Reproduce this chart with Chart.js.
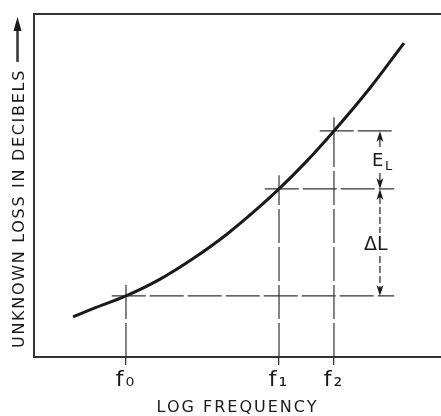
<!DOCTYPE html>
<html>
<head>
<meta charset="utf-8">
<script src="https://cdn.jsdelivr.net/npm/chart.js@4.4.1/dist/chart.umd.min.js"></script>
<style>
  html, body { margin: 0; padding: 0; background: #fff; }
  #wrap { width: 441px; height: 416px; }
</style>
</head>
<body>
<div id="wrap"><canvas id="lossChart"></canvas></div>
<script>
// curve (x = log frequency, y = loss; arbitrary units 0..10)
var curveX = [0.96, 1.45, 2.26, 3.10, 3.91, 4.74, 5.55, 6.02, 6.66, 7.37, 8.26, 9.09];
var curveY = [1.17, 1.41, 1.78, 2.27, 2.87, 3.58, 4.39, 4.90, 5.66, 6.59, 7.85, 9.15];
var freqs = [2.26, 6.02, 7.37];      // f0, f1, f2
var losses = [1.78, 4.90, 6.59];     // loss read at f0, f1, f2
var freqLabels = ['f₀', 'f₁', 'f₂'];
var guideEnd = 8.85;                 // right end of the horizontal guides
var dimX = 8.50;                     // where E_L / ΔL are dimensioned

var ink = '#1a1a1a';
var FONT = 'DejaVu Sans';

var datasets = [{
  data: curveX.map(function (x, i) { return { x: x, y: curveY[i] }; }),
  showLine: true,
  borderColor: ink,
  borderWidth: 3,
  pointRadius: 0,
  cubicInterpolationMode: 'monotone',
  order: 0
}];
freqs.forEach(function (f, i) {
  // vertical guide from the axis up past the curve
  datasets.push({
    data: [{ x: f, y: 0 }, { x: f, y: losses[i] + 0.4 }],
    showLine: true, borderColor: '#333', borderWidth: 1.2, borderDash: [34, 4],
    pointRadius: 0, clip: false, order: 1
  });
  // horizontal guide from just left of the curve out to the dimension line
  datasets.push({
    data: [{ x: f - 0.35, y: losses[i] }, { x: guideEnd, y: losses[i] }],
    showLine: true, borderColor: '#333', borderWidth: 1.2, borderDash: [34, 4],
    pointRadius: 0, clip: false, order: 1
  });
});

function arrowHead(ctx, x, tipY, dir) {
  // dir = -1 points up, +1 points down
  ctx.beginPath();
  ctx.moveTo(x, tipY);
  ctx.lineTo(x - 3.5, tipY - dir * 11);
  ctx.lineTo(x, tipY - dir * 8);
  ctx.lineTo(x + 3.5, tipY - dir * 11);
  ctx.closePath();
  ctx.fill();
}

var notes = {
  id: 'notes',
  afterDatasetsDraw: function (chart) {
    var ctx = chart.ctx, a = chart.chartArea;
    var xs = chart.scales.x, ys = chart.scales.y;
    ctx.save();
    ctx.strokeStyle = '#333';
    ctx.fillStyle = ink;
    // top edge of the frame
    ctx.lineWidth = 2;
    ctx.beginPath();
    ctx.moveTo(a.left - 1, a.top);
    ctx.lineTo(a.right, a.top);
    ctx.stroke();

    var dx = xs.getPixelForValue(dimX);
    var y0 = ys.getPixelForValue(losses[0]);
    var y1 = ys.getPixelForValue(losses[1]);
    var y2 = ys.getPixelForValue(losses[2]);
    ctx.lineWidth = 1.3;
    // E_L : between f1 and f2 levels
    ctx.beginPath();
    ctx.moveTo(dx, y2 + 6); ctx.lineTo(dx, y2 + 16);
    ctx.moveTo(dx, y1 - 16); ctx.lineTo(dx, y1 - 6);
    ctx.stroke();
    arrowHead(ctx, dx, y2, -1);
    arrowHead(ctx, dx, y1, 1);
    // ΔL : between f0 and f1 levels
    ctx.setLineDash([7, 3]);
    ctx.beginPath();
    ctx.moveTo(dx, y1 + 8); ctx.lineTo(dx, y1 + 44);
    ctx.moveTo(dx, y0 - 40); ctx.lineTo(dx, y0 - 8);
    ctx.stroke();
    ctx.setLineDash([]);
    arrowHead(ctx, dx, y1, -1);
    arrowHead(ctx, dx, y0, 1);

    ctx.textBaseline = 'alphabetic';
    ctx.textAlign = 'left';
    ctx.letterSpacing = '0px';
    ctx.font = '18px "' + FONT + '"';
    ctx.fillText('E', dx - 8, (y1 + y2) / 2 + 6);
    ctx.font = '13px "' + FONT + '"';
    ctx.fillText('L', dx + 5, (y1 + y2) / 2 + 10);
    ctx.font = '19px "' + FONT + '"';
    ctx.fillText('ΔL', dx - 16, (y0 + y1) / 2 + 8);

    // vertical axis title with its arrow
    ctx.save();
    ctx.translate(23.5, a.bottom - 9);
    ctx.rotate(-Math.PI / 2);
    ctx.font = '16px "' + FONT + '"';
    ctx.letterSpacing = '1.7px';
    ctx.fillText('UNKNOWN LOSS IN DECIBELS', 0, 0);
    ctx.restore();
    ctx.lineWidth = 2.5;
    ctx.beginPath();
    ctx.moveTo(17.5, 62); ctx.lineTo(17.5, 26);
    ctx.stroke();
    ctx.beginPath();
    ctx.moveTo(17.5, 17); ctx.lineTo(13.5, 31); ctx.lineTo(21.5, 31);
    ctx.closePath();
    ctx.fill();
    ctx.restore();
  }
};

var spacing = {
  id: 'spacing',
  beforeDraw: function (chart) { chart.ctx.letterSpacing = '2px'; },
  afterDraw: function (chart) { chart.ctx.letterSpacing = '0px'; }
};

var ctx = document.getElementById('lossChart');
var lossChart = new Chart(ctx, {
  type: 'scatter',
  data: { datasets: datasets },
  options: {
    responsive: true,
    maintainAspectRatio: false,
    animation: false,
    layout: { padding: { top: 14, left: 0, right: 0, bottom: 0 } },
    plugins: { legend: { display: false }, tooltip: { enabled: false } },
    scales: {
      x: {
        type: 'linear', min: 0, max: 10,
        afterFit: function (s) { s.height = 59; },
        afterBuildTicks: function (s) { s.ticks = freqs.map(function (v) { return { value: v }; }); },
        ticks: {
          padding: 2, color: ink, maxRotation: 0, autoSkip: false,
          font: { family: FONT, size: 22 },
          callback: function (v, i) { return freqLabels[i]; }
        },
        grid: { display: true, drawOnChartArea: false, drawTicks: true, tickLength: 8, color: '#333', lineWidth: 1.3 },
        border: { display: true, color: '#333', width: 2 },
        title: {
          display: true, text: 'LOG FREQUENCY', color: ink,
          font: { family: FONT, size: 16, lineHeight: 1 }, padding: 0
        }
      },
      y: {
        type: 'linear', min: 0, max: 10,
        afterFit: function (s) { s.width = 34; },
        ticks: { display: false },
        grid: { display: false },
        border: { display: true, color: '#333', width: 2 }
      }
    }
  },
  plugins: [spacing, notes]
});
</script>
</body>
</html>
